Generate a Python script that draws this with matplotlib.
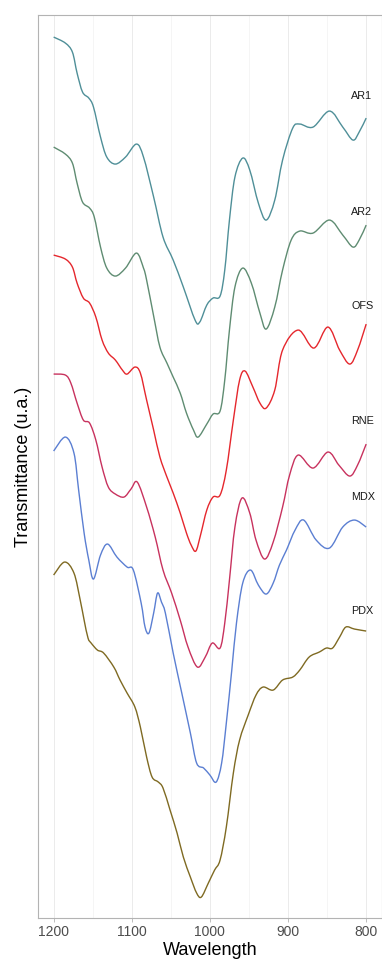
"""
FTIR spectra of six samples, stacked with offsets, 1200-800 wavenumber window.
"""

import matplotlib
matplotlib.use('Agg')
import matplotlib.pyplot as plt
from matplotlib.path import Path
from matplotlib.patches import PathPatch
from matplotlib.ticker import MultipleLocator

plt.rcParams['font.family'] = ['Liberation Sans', 'DejaVu Sans']

# --- data (transmittance, arbitrary units, offsets included) ---
samples = ['AR1', 'AR2', 'OFS', 'RNE', 'MDX', 'PDX']
colors = ['#4f8f98', '#5f8c72', '#e5272d', '#c8325e', '#5b7fd2', '#7f6a22']

ar1_wn = [1200, 1185, 1176, 1170, 1163, 1155, 1149, 1140, 1132, 1121, 1108, 1094, 1085,
          1072, 1060, 1047, 1034, 1019, 1013, 1004, 996, 987, 981, 975, 968, 958, 949,
          938, 928, 917, 907, 894, 885, 868, 847, 830, 817, 809, 800]
ar1_t = [8.81, 8.75, 8.66, 8.45, 8.26, 8.20, 8.11, 7.81, 7.61, 7.54, 7.61, 7.74, 7.61,
         7.21, 6.81, 6.58, 6.31, 5.98, 5.96, 6.13, 6.20, 6.22, 6.48, 6.98, 7.41, 7.60, 7.48,
         7.15, 6.98, 7.18, 7.58, 7.90, 7.94, 7.91, 8.07, 7.91, 7.78, 7.86, 8.00]

ar2_wn = [1200, 1185, 1176, 1170, 1163, 1154, 1148, 1140, 1132, 1121, 1108, 1094, 1085,
          1081, 1072, 1064, 1055, 1047, 1038, 1030, 1021, 1015, 1004, 996, 987, 981, 975,
          968, 958, 947, 936, 928, 917, 907, 896, 885, 868, 847, 830, 817, 809, 800]
ar2_t = [7.71, 7.64, 7.55, 7.35, 7.16, 7.10, 7.01, 6.71, 6.50, 6.42, 6.50, 6.65, 6.50,
         6.38, 6.02, 5.71, 5.55, 5.41, 5.25, 5.05, 4.88, 4.81, 4.94, 5.04, 5.07, 5.38, 5.88,
         6.31, 6.50, 6.35, 6.05, 5.89, 6.11, 6.48, 6.78, 6.87, 6.85, 6.98, 6.83, 6.71, 6.78, 6.93]

ofs_wn = [1200, 1185, 1176, 1170, 1162, 1154, 1146, 1138, 1130, 1121, 1112, 1106, 1096,
          1089, 1081, 1072, 1064, 1055, 1047, 1038, 1030, 1024, 1018, 1012, 1004, 996, 987,
          979, 970, 962, 955, 945, 936, 928, 917, 907, 887, 867, 849, 834, 821, 811, 800]
ofs_t = [6.63, 6.59, 6.51, 6.35, 6.20, 6.15, 6.01, 5.78, 5.65, 5.58, 5.48, 5.44, 5.51,
         5.45, 5.18, 4.88, 4.61, 4.41, 4.25, 4.05, 3.85, 3.73, 3.67, 3.83, 4.08, 4.21, 4.23,
         4.48, 4.98, 5.38, 5.47, 5.31, 5.15, 5.10, 5.28, 5.68, 5.88, 5.70, 5.91, 5.68, 5.54, 5.68, 5.94]

rne_wn = [1200, 1185, 1178, 1170, 1162, 1154, 1146, 1138, 1130, 1121, 1110, 1101, 1093,
          1081, 1070, 1060, 1049, 1038, 1028, 1016, 1006, 997, 987, 981, 975, 968, 959,
          949, 941, 930, 919, 907, 898, 887, 868, 849, 835, 821, 811, 800]
rne_t = [5.44, 5.43, 5.35, 5.15, 4.98, 4.95, 4.78, 4.51, 4.31, 4.24, 4.21, 4.29, 4.36,
         4.11, 3.81, 3.48, 3.25, 2.98, 2.71, 2.51, 2.61, 2.75, 2.70, 2.95, 3.38, 3.91, 4.20,
         4.05, 3.78, 3.59, 3.76, 4.11, 4.43, 4.63, 4.50, 4.66, 4.53, 4.42, 4.53, 4.74]

mdx_wn = [1200, 1185, 1174, 1168, 1161, 1155, 1149, 1140, 1131, 1119, 1106, 1098, 1088,
          1083, 1078, 1072, 1067, 1062, 1057, 1047, 1036, 1025, 1017, 1008, 1000, 992, 985,
          979, 972, 966, 958, 948, 938, 928, 919, 911, 902, 891, 880, 864, 847, 830, 815, 800]
mdx_t = [4.67, 4.81, 4.65, 4.28, 3.85, 3.58, 3.39, 3.63, 3.74, 3.61, 3.51, 3.48, 3.15,
         2.91, 2.85, 3.05, 3.25, 3.16, 3.05, 2.65, 2.25, 1.85, 1.55, 1.50, 1.43, 1.36, 1.55,
         1.95, 2.48, 2.95, 3.35, 3.48, 3.33, 3.24, 3.35, 3.53, 3.68, 3.88, 3.98, 3.78, 3.70,
         3.91, 3.98, 3.91]

pdx_wn = [1200, 1186, 1174, 1166, 1161, 1156, 1152, 1144, 1136, 1123, 1115, 1106, 1096,
          1089, 1081, 1074, 1066, 1060, 1051, 1042, 1034, 1025, 1017, 1011, 1002, 994, 987,
          979, 970, 962, 951, 941, 932, 919, 907, 894, 885, 873, 860, 851, 843, 834, 826, 815, 800]
pdx_t = [3.43, 3.56, 3.45, 3.18, 2.98, 2.80, 2.75, 2.68, 2.65, 2.51, 2.38, 2.25, 2.11,
         1.91, 1.61, 1.41, 1.36, 1.30, 1.08, 0.85, 0.61, 0.41, 0.25, 0.21, 0.35, 0.48, 0.58,
         0.91, 1.45, 1.78, 2.03, 2.23, 2.31, 2.28, 2.38, 2.41, 2.48, 2.61, 2.66, 2.70, 2.70,
         2.81, 2.91, 2.89, 2.87]

# where each sample name sits (left edge in wavenumber, height in same units)
label_x = 819
label_y = [8.22, 7.06, 6.12, 4.97, 4.21, 3.07]

spectra = [(ar1_wn, ar1_t), (ar2_wn, ar2_t), (ofs_wn, ofs_t),
           (rne_wn, rne_t), (mdx_wn, mdx_t), (pdx_wn, pdx_t)]


def smooth_path(xs, ys):
    """Bezier path through every read point (Catmull-Rom style tangents)."""
    pts = list(zip(xs, ys))
    verts = [pts[0]]
    codes = [Path.MOVETO]
    n = len(pts)
    for i in range(n - 1):
        p0 = pts[max(i - 1, 0)]
        p1 = pts[i]
        p2 = pts[i + 1]
        p3 = pts[min(i + 2, n - 1)]
        c1 = (p1[0] + (p2[0] - p0[0]) / 6, p1[1] + (p2[1] - p0[1]) / 6)
        c2 = (p2[0] - (p3[0] - p1[0]) / 6, p2[1] - (p3[1] - p1[1]) / 6)
        verts += [c1, c2, p2]
        codes += [Path.CURVE4] * 3
    return Path(verts, codes)


def plot_spectra():
    fig = plt.figure(figsize=(3.82, 9.6), dpi=100)
    ax = fig.add_axes([0.0995, 0.0437, 0.9, 0.9406])

    # light grid, major every 100 and minor every 50
    ax.xaxis.set_major_locator(MultipleLocator(100))
    ax.xaxis.set_minor_locator(MultipleLocator(50))
    ax.grid(True, which='major', axis='x', color='#ebebeb', linewidth=0.7)
    ax.grid(True, which='minor', axis='x', color='#f2f2f2', linewidth=0.5)
    ax.set_axisbelow(True)

    for (wn, t), name, col, ly in zip(spectra, samples, colors, label_y):
        ax.add_patch(PathPatch(smooth_path(wn, t), facecolor='none', edgecolor=col,
                               linewidth=1.0, joinstyle='round'))
        ax.text(label_x, ly, name, fontsize=7.8, color='#1a1a1a',
                ha='left', va='center', clip_on=True)

    ax.set_xlim(1220, 780)
    ax.set_ylim(0, 9.03)
    ax.set_yticks([])

    for side in ['left', 'bottom', 'top', 'right']:
        ax.spines[side].set_color('#b3b3b3')
        ax.spines[side].set_linewidth(0.8)

    ax.tick_params(axis='x', which='major', length=3, width=0.6, color='#b3b3b3',
                   labelsize=10, labelcolor='#4d4d4d', pad=2)
    ax.tick_params(axis='x', which='minor', length=0)

    ax.set_xlabel('Wavelength', fontsize=13, labelpad=2.5)
    ax.set_ylabel('Transmittance (u.a.)', fontsize=13, labelpad=4)

    fig.savefig('out.png', dpi=100)


if __name__ == '__main__':
    plot_spectra()
